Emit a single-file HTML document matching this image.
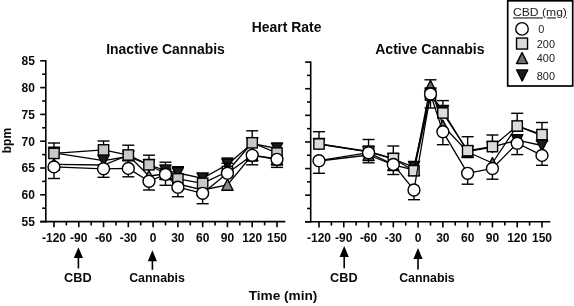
<!DOCTYPE html>
<html><head><meta charset="utf-8"><style>
html,body{margin:0;padding:0;background:#fff;}
svg{display:block;will-change:transform;}
text{font-family:"Liberation Sans", sans-serif;}
</style></head><body>
<svg width="574" height="306" viewBox="0 0 574 306">
<g stroke="#000" stroke-width="1.6" fill="none" stroke-linecap="butt">
<line x1="45.8" y1="60.0" x2="45.8" y2="222.4" />
<line x1="40.3" y1="221.6" x2="285.3" y2="221.6" />
<line x1="40.20" y1="60.80" x2="45.8" y2="60.80" />
<line x1="42.20" y1="74.20" x2="45.8" y2="74.20" />
<line x1="40.20" y1="87.60" x2="45.8" y2="87.60" />
<line x1="42.20" y1="101.00" x2="45.8" y2="101.00" />
<line x1="40.20" y1="114.40" x2="45.8" y2="114.40" />
<line x1="42.20" y1="127.80" x2="45.8" y2="127.80" />
<line x1="40.20" y1="141.20" x2="45.8" y2="141.20" />
<line x1="42.20" y1="154.60" x2="45.8" y2="154.60" />
<line x1="40.20" y1="168.00" x2="45.8" y2="168.00" />
<line x1="42.20" y1="181.40" x2="45.8" y2="181.40" />
<line x1="40.20" y1="194.80" x2="45.8" y2="194.80" />
<line x1="42.20" y1="208.20" x2="45.8" y2="208.20" />
<line x1="40.20" y1="221.60" x2="45.8" y2="221.60" />
<line x1="53.99" y1="221.6" x2="53.99" y2="227.20" />
<line x1="78.77" y1="221.6" x2="78.77" y2="227.20" />
<line x1="103.55" y1="221.6" x2="103.55" y2="227.20" />
<line x1="128.32" y1="221.6" x2="128.32" y2="227.20" />
<line x1="153.10" y1="221.6" x2="153.10" y2="227.20" />
<line x1="177.88" y1="221.6" x2="177.88" y2="227.20" />
<line x1="202.65" y1="221.6" x2="202.65" y2="227.20" />
<line x1="227.43" y1="221.6" x2="227.43" y2="227.20" />
<line x1="252.21" y1="221.6" x2="252.21" y2="227.20" />
<line x1="276.99" y1="221.6" x2="276.99" y2="227.20" />
<line x1="66.38" y1="221.6" x2="66.38" y2="225.40" />
<line x1="91.16" y1="221.6" x2="91.16" y2="225.40" />
<line x1="115.93" y1="221.6" x2="115.93" y2="225.40" />
<line x1="140.71" y1="221.6" x2="140.71" y2="225.40" />
<line x1="165.49" y1="221.6" x2="165.49" y2="225.40" />
<line x1="190.27" y1="221.6" x2="190.27" y2="225.40" />
<line x1="215.04" y1="221.6" x2="215.04" y2="225.40" />
<line x1="239.82" y1="221.6" x2="239.82" y2="225.40" />
<line x1="264.60" y1="221.6" x2="264.60" y2="225.40" />
<line x1="310.7" y1="61.300000000000004" x2="310.7" y2="222.60000000000002" />
<line x1="305.0" y1="221.8" x2="550.3" y2="221.8" />
<line x1="305.10" y1="62.10" x2="310.7" y2="62.10" />
<line x1="307.10" y1="75.41" x2="310.7" y2="75.41" />
<line x1="305.10" y1="88.72" x2="310.7" y2="88.72" />
<line x1="307.10" y1="102.03" x2="310.7" y2="102.03" />
<line x1="305.10" y1="115.33" x2="310.7" y2="115.33" />
<line x1="307.10" y1="128.64" x2="310.7" y2="128.64" />
<line x1="305.10" y1="141.95" x2="310.7" y2="141.95" />
<line x1="307.10" y1="155.26" x2="310.7" y2="155.26" />
<line x1="305.10" y1="168.57" x2="310.7" y2="168.57" />
<line x1="307.10" y1="181.88" x2="310.7" y2="181.88" />
<line x1="305.10" y1="195.18" x2="310.7" y2="195.18" />
<line x1="307.10" y1="208.49" x2="310.7" y2="208.49" />
<line x1="305.10" y1="221.80" x2="310.7" y2="221.80" />
<line x1="318.99" y1="221.8" x2="318.99" y2="227.40" />
<line x1="343.77" y1="221.8" x2="343.77" y2="227.40" />
<line x1="368.55" y1="221.8" x2="368.55" y2="227.40" />
<line x1="393.32" y1="221.8" x2="393.32" y2="227.40" />
<line x1="418.10" y1="221.8" x2="418.10" y2="227.40" />
<line x1="442.88" y1="221.8" x2="442.88" y2="227.40" />
<line x1="467.65" y1="221.8" x2="467.65" y2="227.40" />
<line x1="492.43" y1="221.8" x2="492.43" y2="227.40" />
<line x1="517.21" y1="221.8" x2="517.21" y2="227.40" />
<line x1="541.99" y1="221.8" x2="541.99" y2="227.40" />
<line x1="331.38" y1="221.8" x2="331.38" y2="225.60" />
<line x1="356.16" y1="221.8" x2="356.16" y2="225.60" />
<line x1="380.93" y1="221.8" x2="380.93" y2="225.60" />
<line x1="405.71" y1="221.8" x2="405.71" y2="225.60" />
<line x1="430.49" y1="221.8" x2="430.49" y2="225.60" />
<line x1="455.27" y1="221.8" x2="455.27" y2="225.60" />
<line x1="480.04" y1="221.8" x2="480.04" y2="225.60" />
<line x1="504.82" y1="221.8" x2="504.82" y2="225.60" />
<line x1="529.60" y1="221.8" x2="529.60" y2="225.60" />
<path d="M78.4 247.2 L83.0 258.0 L73.80000000000001 258.0 Z" fill="#000" stroke="none"/>
<line x1="78.4" y1="257.0" x2="78.4" y2="268.5" stroke-width="1.6"/>
<path d="M152.4 250.2 L157.0 261.3 L147.8 261.3 Z" fill="#000" stroke="none"/>
<line x1="152.4" y1="260.3" x2="152.4" y2="269.8" stroke-width="1.6"/>
<path d="M344.2 246.1 L348.8 256.9 L339.59999999999997 256.9 Z" fill="#000" stroke="none"/>
<line x1="344.2" y1="255.89999999999998" x2="344.2" y2="268.3" stroke-width="1.6"/>
<path d="M418.0 248.0 L422.6 259.1 L413.4 259.1 Z" fill="#000" stroke="none"/>
<line x1="418.0" y1="258.1" x2="418.0" y2="269.4" stroke-width="1.6"/>
</g>
<g stroke="#000" fill="none">
<path d="M53.99 164.30 L103.55 165.00 L128.32 155.20 L148.97 176.00 L165.49 174.00 L177.88 184.00 L202.65 190.00 L227.43 184.80 L252.21 155.00 L276.99 159.00" fill="none" stroke="#000" stroke-width="1.3"/>
<path d="M53.99 158.80 L59.59 169.80 L48.39 169.80 Z" fill="#888888" stroke="#000" stroke-width="1.4" stroke-linejoin="round"/>
<path d="M103.55 159.50 L109.15 170.50 L97.95 170.50 Z" fill="#888888" stroke="#000" stroke-width="1.4" stroke-linejoin="round"/>
<path d="M128.32 149.70 L133.92 160.70 L122.72 160.70 Z" fill="#888888" stroke="#000" stroke-width="1.4" stroke-linejoin="round"/>
<path d="M148.97 170.50 L154.57 181.50 L143.37 181.50 Z" fill="#888888" stroke="#000" stroke-width="1.4" stroke-linejoin="round"/>
<path d="M165.49 168.50 L171.09 179.50 L159.89 179.50 Z" fill="#888888" stroke="#000" stroke-width="1.4" stroke-linejoin="round"/>
<path d="M177.88 178.50 L183.48 189.50 L172.28 189.50 Z" fill="#888888" stroke="#000" stroke-width="1.4" stroke-linejoin="round"/>
<path d="M202.65 184.50 L208.25 195.50 L197.05 195.50 Z" fill="#888888" stroke="#000" stroke-width="1.4" stroke-linejoin="round"/>
<path d="M227.43 179.30 L233.03 190.30 L221.83 190.30 Z" fill="#888888" stroke="#000" stroke-width="1.4" stroke-linejoin="round"/>
<path d="M252.21 149.50 L257.81 160.50 L246.61 160.50 Z" fill="#888888" stroke="#000" stroke-width="1.4" stroke-linejoin="round"/>
<path d="M276.99 153.50 L282.59 164.50 L271.38 164.50 Z" fill="#888888" stroke="#000" stroke-width="1.4" stroke-linejoin="round"/>
<path d="M53.99 152.80 L103.55 160.70 L128.32 156.50 L148.97 165.00 L165.49 170.40 L177.88 173.00 L202.65 178.40 L227.43 164.50 L252.21 143.50 L276.99 148.50" fill="none" stroke="#000" stroke-width="1.3"/>
<line x1="165.49" y1="170.40" x2="165.49" y2="162.20" stroke-width="1.4"/>
<line x1="159.49" y1="162.20" x2="171.49" y2="162.20" stroke-width="1.4"/>
<line x1="177.88" y1="173.00" x2="177.88" y2="166.70" stroke-width="1.4"/>
<line x1="171.88" y1="166.70" x2="183.88" y2="166.70" stroke-width="1.4"/>
<line x1="227.43" y1="164.50" x2="227.43" y2="158.00" stroke-width="1.4"/>
<line x1="221.43" y1="158.00" x2="233.43" y2="158.00" stroke-width="1.4"/>
<path d="M48.39 147.30 L59.59 147.30 L53.99 158.30 Z" fill="#1a1a1a" stroke="#000" stroke-width="1.4" stroke-linejoin="round"/>
<path d="M97.95 155.20 L109.15 155.20 L103.55 166.20 Z" fill="#1a1a1a" stroke="#000" stroke-width="1.4" stroke-linejoin="round"/>
<path d="M122.72 151.00 L133.92 151.00 L128.32 162.00 Z" fill="#1a1a1a" stroke="#000" stroke-width="1.4" stroke-linejoin="round"/>
<path d="M143.37 159.50 L154.57 159.50 L148.97 170.50 Z" fill="#1a1a1a" stroke="#000" stroke-width="1.4" stroke-linejoin="round"/>
<path d="M159.89 164.90 L171.09 164.90 L165.49 175.90 Z" fill="#1a1a1a" stroke="#000" stroke-width="1.4" stroke-linejoin="round"/>
<path d="M172.28 167.50 L183.48 167.50 L177.88 178.50 Z" fill="#1a1a1a" stroke="#000" stroke-width="1.4" stroke-linejoin="round"/>
<path d="M197.05 172.90 L208.25 172.90 L202.65 183.90 Z" fill="#1a1a1a" stroke="#000" stroke-width="1.4" stroke-linejoin="round"/>
<path d="M221.83 159.00 L233.03 159.00 L227.43 170.00 Z" fill="#1a1a1a" stroke="#000" stroke-width="1.4" stroke-linejoin="round"/>
<path d="M246.61 138.00 L257.81 138.00 L252.21 149.00 Z" fill="#1a1a1a" stroke="#000" stroke-width="1.4" stroke-linejoin="round"/>
<path d="M271.38 143.00 L282.59 143.00 L276.99 154.00 Z" fill="#1a1a1a" stroke="#000" stroke-width="1.4" stroke-linejoin="round"/>
<path d="M53.99 153.40 L103.55 149.90 L128.32 155.00 L148.97 164.80 L165.49 174.00 L177.88 178.80 L202.65 183.30 L227.43 171.50 L252.21 142.80 L276.99 153.00" fill="none" stroke="#000" stroke-width="1.3"/>
<line x1="53.99" y1="153.40" x2="53.99" y2="143.00" stroke-width="1.4"/>
<line x1="47.99" y1="143.00" x2="59.99" y2="143.00" stroke-width="1.4"/>
<line x1="103.55" y1="149.90" x2="103.55" y2="141.00" stroke-width="1.4"/>
<line x1="97.55" y1="141.00" x2="109.55" y2="141.00" stroke-width="1.4"/>
<line x1="128.32" y1="155.00" x2="128.32" y2="145.20" stroke-width="1.4"/>
<line x1="122.32" y1="145.20" x2="134.32" y2="145.20" stroke-width="1.4"/>
<line x1="148.97" y1="164.80" x2="148.97" y2="155.20" stroke-width="1.4"/>
<line x1="142.97" y1="155.20" x2="154.97" y2="155.20" stroke-width="1.4"/>
<line x1="227.43" y1="171.50" x2="227.43" y2="163.20" stroke-width="1.4"/>
<line x1="221.43" y1="163.20" x2="233.43" y2="163.20" stroke-width="1.4"/>
<line x1="252.21" y1="142.80" x2="252.21" y2="130.80" stroke-width="1.4"/>
<line x1="246.21" y1="130.80" x2="258.21" y2="130.80" stroke-width="1.4"/>
<rect x="48.84" y="148.25" width="10.3" height="10.3" fill="#c8c8c8" stroke="#000" stroke-width="1.4"/>
<rect x="98.40" y="144.75" width="10.3" height="10.3" fill="#c8c8c8" stroke="#000" stroke-width="1.4"/>
<rect x="123.17" y="149.85" width="10.3" height="10.3" fill="#c8c8c8" stroke="#000" stroke-width="1.4"/>
<rect x="143.82" y="159.65" width="10.3" height="10.3" fill="#c8c8c8" stroke="#000" stroke-width="1.4"/>
<rect x="160.34" y="168.85" width="10.3" height="10.3" fill="#c8c8c8" stroke="#000" stroke-width="1.4"/>
<rect x="172.73" y="173.65" width="10.3" height="10.3" fill="#c8c8c8" stroke="#000" stroke-width="1.4"/>
<rect x="197.50" y="178.15" width="10.3" height="10.3" fill="#c8c8c8" stroke="#000" stroke-width="1.4"/>
<rect x="222.28" y="166.35" width="10.3" height="10.3" fill="#c8c8c8" stroke="#000" stroke-width="1.4"/>
<rect x="247.06" y="137.65" width="10.3" height="10.3" fill="#c8c8c8" stroke="#000" stroke-width="1.4"/>
<rect x="271.84" y="147.85" width="10.3" height="10.3" fill="#c8c8c8" stroke="#000" stroke-width="1.4"/>
<path d="M53.99 166.90 L103.55 168.80 L128.32 168.40 L148.97 181.30 L165.49 174.40 L177.88 187.20 L202.65 193.30 L227.43 173.20 L252.21 155.30 L276.99 159.30" fill="none" stroke="#000" stroke-width="1.3"/>
<line x1="53.99" y1="166.90" x2="53.99" y2="178.50" stroke-width="1.4"/>
<line x1="47.99" y1="178.50" x2="59.99" y2="178.50" stroke-width="1.4"/>
<line x1="103.55" y1="168.80" x2="103.55" y2="177.30" stroke-width="1.4"/>
<line x1="97.55" y1="177.30" x2="109.55" y2="177.30" stroke-width="1.4"/>
<line x1="128.32" y1="168.40" x2="128.32" y2="176.80" stroke-width="1.4"/>
<line x1="122.32" y1="176.80" x2="134.32" y2="176.80" stroke-width="1.4"/>
<line x1="148.97" y1="181.30" x2="148.97" y2="190.00" stroke-width="1.4"/>
<line x1="142.97" y1="190.00" x2="154.97" y2="190.00" stroke-width="1.4"/>
<line x1="165.49" y1="174.40" x2="165.49" y2="185.30" stroke-width="1.4"/>
<line x1="159.49" y1="185.30" x2="171.49" y2="185.30" stroke-width="1.4"/>
<line x1="177.88" y1="187.20" x2="177.88" y2="196.70" stroke-width="1.4"/>
<line x1="171.88" y1="196.70" x2="183.88" y2="196.70" stroke-width="1.4"/>
<line x1="202.65" y1="193.30" x2="202.65" y2="203.70" stroke-width="1.4"/>
<line x1="196.65" y1="203.70" x2="208.65" y2="203.70" stroke-width="1.4"/>
<line x1="252.21" y1="155.30" x2="252.21" y2="161.00" stroke-width="1.4"/>
<line x1="246.21" y1="161.00" x2="258.21" y2="161.00" stroke-width="1.4"/>
<line x1="252.21" y1="155.30" x2="252.21" y2="164.80" stroke-width="1.4"/>
<line x1="246.21" y1="164.80" x2="258.21" y2="164.80" stroke-width="1.4"/>
<line x1="276.99" y1="159.30" x2="276.99" y2="165.00" stroke-width="1.4"/>
<line x1="270.99" y1="165.00" x2="282.99" y2="165.00" stroke-width="1.4"/>
<line x1="276.99" y1="159.30" x2="276.99" y2="167.40" stroke-width="1.4"/>
<line x1="270.99" y1="167.40" x2="282.99" y2="167.40" stroke-width="1.4"/>
<circle cx="53.99" cy="166.90" r="5.95" fill="#fff" stroke="#000" stroke-width="1.4"/>
<circle cx="103.55" cy="168.80" r="5.95" fill="#fff" stroke="#000" stroke-width="1.4"/>
<circle cx="128.32" cy="168.40" r="5.95" fill="#fff" stroke="#000" stroke-width="1.4"/>
<circle cx="148.97" cy="181.30" r="5.95" fill="#fff" stroke="#000" stroke-width="1.4"/>
<circle cx="165.49" cy="174.40" r="5.95" fill="#fff" stroke="#000" stroke-width="1.4"/>
<circle cx="177.88" cy="187.20" r="5.95" fill="#fff" stroke="#000" stroke-width="1.4"/>
<circle cx="202.65" cy="193.30" r="5.95" fill="#fff" stroke="#000" stroke-width="1.4"/>
<circle cx="227.43" cy="173.20" r="5.95" fill="#fff" stroke="#000" stroke-width="1.4"/>
<circle cx="252.21" cy="155.30" r="5.95" fill="#fff" stroke="#000" stroke-width="1.4"/>
<circle cx="276.99" cy="159.30" r="5.95" fill="#fff" stroke="#000" stroke-width="1.4"/>
<path d="M318.99 161.00 L368.55 155.00 L393.32 165.00 L413.97 170.00 L430.49 86.00 L442.88 125.50 L467.65 152.00 L492.43 163.00 L517.21 125.80 L541.99 135.60" fill="none" stroke="#000" stroke-width="1.3"/>
<line x1="430.49" y1="86.00" x2="430.49" y2="79.80" stroke-width="1.4"/>
<line x1="424.49" y1="79.80" x2="436.49" y2="79.80" stroke-width="1.4"/>
<path d="M368.55 149.50 L374.15 160.50 L362.95 160.50 Z" fill="#666666" stroke="#000" stroke-width="1.4" stroke-linejoin="round"/>
<path d="M393.32 159.50 L398.92 170.50 L387.72 170.50 Z" fill="#666666" stroke="#000" stroke-width="1.4" stroke-linejoin="round"/>
<path d="M413.97 164.50 L419.57 175.50 L408.37 175.50 Z" fill="#666666" stroke="#000" stroke-width="1.4" stroke-linejoin="round"/>
<path d="M430.49 80.50 L436.09 91.50 L424.89 91.50 Z" fill="#666666" stroke="#000" stroke-width="1.4" stroke-linejoin="round"/>
<path d="M442.88 120.00 L448.48 131.00 L437.28 131.00 Z" fill="#666666" stroke="#000" stroke-width="1.4" stroke-linejoin="round"/>
<path d="M467.65 146.50 L473.25 157.50 L462.05 157.50 Z" fill="#666666" stroke="#000" stroke-width="1.4" stroke-linejoin="round"/>
<path d="M492.43 157.50 L498.03 168.50 L486.83 168.50 Z" fill="#666666" stroke="#000" stroke-width="1.4" stroke-linejoin="round"/>
<path d="M517.21 120.30 L522.81 131.30 L511.61 131.30 Z" fill="#666666" stroke="#000" stroke-width="1.4" stroke-linejoin="round"/>
<path d="M541.99 130.10 L547.59 141.10 L536.38 141.10 Z" fill="#666666" stroke="#000" stroke-width="1.4" stroke-linejoin="round"/>
<path d="M318.99 144.00 L368.55 151.80 L393.32 159.00 L413.97 167.00 L430.49 93.50 L442.88 111.00 L467.65 151.50 L492.43 147.00 L517.21 140.20 L541.99 145.50" fill="none" stroke="#000" stroke-width="1.3"/>
<path d="M313.39 138.50 L324.59 138.50 L318.99 149.50 Z" fill="#1a1a1a" stroke="#000" stroke-width="1.4" stroke-linejoin="round"/>
<path d="M362.95 146.30 L374.15 146.30 L368.55 157.30 Z" fill="#1a1a1a" stroke="#000" stroke-width="1.4" stroke-linejoin="round"/>
<path d="M387.72 153.50 L398.92 153.50 L393.32 164.50 Z" fill="#1a1a1a" stroke="#000" stroke-width="1.4" stroke-linejoin="round"/>
<path d="M408.37 161.50 L419.57 161.50 L413.97 172.50 Z" fill="#1a1a1a" stroke="#000" stroke-width="1.4" stroke-linejoin="round"/>
<path d="M424.89 88.00 L436.09 88.00 L430.49 99.00 Z" fill="#1a1a1a" stroke="#000" stroke-width="1.4" stroke-linejoin="round"/>
<path d="M437.28 105.50 L448.48 105.50 L442.88 116.50 Z" fill="#1a1a1a" stroke="#000" stroke-width="1.4" stroke-linejoin="round"/>
<path d="M462.05 146.00 L473.25 146.00 L467.65 157.00 Z" fill="#1a1a1a" stroke="#000" stroke-width="1.4" stroke-linejoin="round"/>
<path d="M486.83 141.50 L498.03 141.50 L492.43 152.50 Z" fill="#1a1a1a" stroke="#000" stroke-width="1.4" stroke-linejoin="round"/>
<path d="M511.61 134.70 L522.81 134.70 L517.21 145.70 Z" fill="#1a1a1a" stroke="#000" stroke-width="1.4" stroke-linejoin="round"/>
<path d="M536.38 140.00 L547.59 140.00 L541.99 151.00 Z" fill="#1a1a1a" stroke="#000" stroke-width="1.4" stroke-linejoin="round"/>
<path d="M318.99 144.00 L368.55 151.50 L393.32 158.50 L413.97 170.70 L430.49 95.00 L442.88 113.00 L467.65 150.70 L492.43 146.60 L517.21 126.00 L541.99 134.60" fill="none" stroke="#000" stroke-width="1.3"/>
<line x1="318.99" y1="144.00" x2="318.99" y2="131.70" stroke-width="1.4"/>
<line x1="312.99" y1="131.70" x2="324.99" y2="131.70" stroke-width="1.4"/>
<line x1="368.55" y1="151.50" x2="368.55" y2="139.50" stroke-width="1.4"/>
<line x1="362.55" y1="139.50" x2="374.55" y2="139.50" stroke-width="1.4"/>
<line x1="393.32" y1="158.50" x2="393.32" y2="146.00" stroke-width="1.4"/>
<line x1="387.32" y1="146.00" x2="399.32" y2="146.00" stroke-width="1.4"/>
<line x1="442.88" y1="113.00" x2="442.88" y2="100.60" stroke-width="1.4"/>
<line x1="436.88" y1="100.60" x2="448.88" y2="100.60" stroke-width="1.4"/>
<line x1="467.65" y1="150.70" x2="467.65" y2="136.70" stroke-width="1.4"/>
<line x1="461.65" y1="136.70" x2="473.65" y2="136.70" stroke-width="1.4"/>
<line x1="467.65" y1="150.70" x2="467.65" y2="157.00" stroke-width="1.4"/>
<line x1="461.65" y1="157.00" x2="473.65" y2="157.00" stroke-width="1.4"/>
<line x1="492.43" y1="146.60" x2="492.43" y2="135.00" stroke-width="1.4"/>
<line x1="486.43" y1="135.00" x2="498.43" y2="135.00" stroke-width="1.4"/>
<line x1="517.21" y1="126.00" x2="517.21" y2="113.30" stroke-width="1.4"/>
<line x1="511.21" y1="113.30" x2="523.21" y2="113.30" stroke-width="1.4"/>
<line x1="541.99" y1="134.60" x2="541.99" y2="122.50" stroke-width="1.4"/>
<line x1="535.99" y1="122.50" x2="547.99" y2="122.50" stroke-width="1.4"/>
<rect x="313.84" y="138.85" width="10.3" height="10.3" fill="#dcdcdc" stroke="#000" stroke-width="1.4"/>
<rect x="363.40" y="146.35" width="10.3" height="10.3" fill="#dcdcdc" stroke="#000" stroke-width="1.4"/>
<rect x="388.17" y="153.35" width="10.3" height="10.3" fill="#dcdcdc" stroke="#000" stroke-width="1.4"/>
<rect x="408.82" y="165.55" width="10.3" height="10.3" fill="#dcdcdc" stroke="#000" stroke-width="1.4"/>
<rect x="425.34" y="89.85" width="10.3" height="10.3" fill="#dcdcdc" stroke="#000" stroke-width="1.4"/>
<rect x="437.73" y="107.85" width="10.3" height="10.3" fill="#dcdcdc" stroke="#000" stroke-width="1.4"/>
<rect x="462.50" y="145.55" width="10.3" height="10.3" fill="#dcdcdc" stroke="#000" stroke-width="1.4"/>
<rect x="487.28" y="141.45" width="10.3" height="10.3" fill="#dcdcdc" stroke="#000" stroke-width="1.4"/>
<rect x="512.06" y="120.85" width="10.3" height="10.3" fill="#dcdcdc" stroke="#000" stroke-width="1.4"/>
<rect x="536.84" y="129.45" width="10.3" height="10.3" fill="#dcdcdc" stroke="#000" stroke-width="1.4"/>
<path d="M318.99 160.70 L368.55 152.70 L393.32 164.40 L413.97 190.00 L430.49 94.00 L442.88 131.70 L467.65 173.30 L492.43 168.50 L517.21 143.20 L541.99 155.40" fill="none" stroke="#000" stroke-width="1.3"/>
<line x1="318.99" y1="160.70" x2="318.99" y2="173.30" stroke-width="1.4"/>
<line x1="312.99" y1="173.30" x2="324.99" y2="173.30" stroke-width="1.4"/>
<line x1="368.55" y1="152.70" x2="368.55" y2="162.80" stroke-width="1.4"/>
<line x1="362.55" y1="162.80" x2="374.55" y2="162.80" stroke-width="1.4"/>
<line x1="393.32" y1="164.40" x2="393.32" y2="174.50" stroke-width="1.4"/>
<line x1="387.32" y1="174.50" x2="399.32" y2="174.50" stroke-width="1.4"/>
<line x1="413.97" y1="190.00" x2="413.97" y2="199.70" stroke-width="1.4"/>
<line x1="407.97" y1="199.70" x2="419.97" y2="199.70" stroke-width="1.4"/>
<line x1="430.49" y1="94.00" x2="430.49" y2="108.00" stroke-width="1.4"/>
<line x1="424.49" y1="108.00" x2="436.49" y2="108.00" stroke-width="1.4"/>
<line x1="442.88" y1="131.70" x2="442.88" y2="144.70" stroke-width="1.4"/>
<line x1="436.88" y1="144.70" x2="448.88" y2="144.70" stroke-width="1.4"/>
<line x1="467.65" y1="173.30" x2="467.65" y2="184.20" stroke-width="1.4"/>
<line x1="461.65" y1="184.20" x2="473.65" y2="184.20" stroke-width="1.4"/>
<line x1="492.43" y1="168.50" x2="492.43" y2="179.20" stroke-width="1.4"/>
<line x1="486.43" y1="179.20" x2="498.43" y2="179.20" stroke-width="1.4"/>
<line x1="517.21" y1="143.20" x2="517.21" y2="154.60" stroke-width="1.4"/>
<line x1="511.21" y1="154.60" x2="523.21" y2="154.60" stroke-width="1.4"/>
<line x1="541.99" y1="155.40" x2="541.99" y2="165.30" stroke-width="1.4"/>
<line x1="535.99" y1="165.30" x2="547.99" y2="165.30" stroke-width="1.4"/>
<circle cx="318.99" cy="160.70" r="5.95" fill="#fff" stroke="#000" stroke-width="1.4"/>
<circle cx="368.55" cy="152.70" r="5.95" fill="#fff" stroke="#000" stroke-width="1.4"/>
<circle cx="393.32" cy="164.40" r="5.95" fill="#fff" stroke="#000" stroke-width="1.4"/>
<circle cx="413.97" cy="190.00" r="5.95" fill="#fff" stroke="#000" stroke-width="1.4"/>
<circle cx="430.49" cy="94.00" r="5.95" fill="#fff" stroke="#000" stroke-width="1.4"/>
<circle cx="442.88" cy="131.70" r="5.95" fill="#fff" stroke="#000" stroke-width="1.4"/>
<circle cx="467.65" cy="173.30" r="5.95" fill="#fff" stroke="#000" stroke-width="1.4"/>
<circle cx="492.43" cy="168.50" r="5.95" fill="#fff" stroke="#000" stroke-width="1.4"/>
<circle cx="517.21" cy="143.20" r="5.95" fill="#fff" stroke="#000" stroke-width="1.4"/>
<circle cx="541.99" cy="155.40" r="5.95" fill="#fff" stroke="#000" stroke-width="1.4"/>
</g>
<g>
<rect x="507.7" y="0.8" width="65.0" height="85.2" fill="#fff" stroke="#000" stroke-width="1.7"/>
<circle cx="522.00" cy="28.90" r="6.25" fill="#fff" stroke="#000" stroke-width="1.4"/>
<rect x="516.55" y="38.05" width="11.0" height="11.0" fill="#dcdcdc" stroke="#000" stroke-width="1.4"/>
<path d="M522.05 52.60 L527.60 63.60 L516.50 63.60 Z" fill="#707070" stroke="#000" stroke-width="1.4" stroke-linejoin="round"/>
<path d="M516.65 69.90 L527.75 69.90 L522.20 80.90 Z" fill="#1a1a1a" stroke="#000" stroke-width="1.4" stroke-linejoin="round"/>
</g>
<g fill="#0a0a0a" font-weight="bold" font-size="12px">
<text x="53.99" y="241.6" text-anchor="middle">-120</text>
<text x="78.77" y="241.6" text-anchor="middle">-90</text>
<text x="103.55" y="241.6" text-anchor="middle">-60</text>
<text x="128.32" y="241.6" text-anchor="middle">-30</text>
<text x="153.10" y="241.6" text-anchor="middle">0</text>
<text x="177.88" y="241.6" text-anchor="middle">30</text>
<text x="202.65" y="241.6" text-anchor="middle">60</text>
<text x="227.43" y="241.6" text-anchor="middle">90</text>
<text x="252.21" y="241.6" text-anchor="middle">120</text>
<text x="276.99" y="241.6" text-anchor="middle">150</text>
<text x="34.9" y="65.20" text-anchor="end">85</text>
<text x="34.9" y="92.00" text-anchor="end">80</text>
<text x="34.9" y="118.80" text-anchor="end">75</text>
<text x="34.9" y="145.60" text-anchor="end">70</text>
<text x="34.9" y="172.40" text-anchor="end">65</text>
<text x="34.9" y="199.20" text-anchor="end">60</text>
<text x="34.9" y="226.00" text-anchor="end">55</text>
<text x="318.99" y="241.6" text-anchor="middle">-120</text>
<text x="343.77" y="241.6" text-anchor="middle">-90</text>
<text x="368.55" y="241.6" text-anchor="middle">-60</text>
<text x="393.32" y="241.6" text-anchor="middle">-30</text>
<text x="418.10" y="241.6" text-anchor="middle">0</text>
<text x="442.88" y="241.6" text-anchor="middle">30</text>
<text x="467.65" y="241.6" text-anchor="middle">60</text>
<text x="492.43" y="241.6" text-anchor="middle">90</text>
<text x="517.21" y="241.6" text-anchor="middle">120</text>
<text x="541.99" y="241.6" text-anchor="middle">150</text>
</g>
<g fill="#0a0a0a">
<text x="251.8" y="31.6" font-size="13.9px" font-weight="bold" textLength="69.69" lengthAdjust="spacingAndGlyphs">Heart Rate</text>
<text x="106.22" y="53.6" font-size="14.2px" font-weight="bold" textLength="118.61" lengthAdjust="spacingAndGlyphs">Inactive Cannabis</text>
<text x="375.21" y="53.6" font-size="14.2px" font-weight="bold" textLength="109.38" lengthAdjust="spacingAndGlyphs">Active Cannabis</text>
<text x="248.7" y="299.8" font-size="13.6px" font-weight="bold" textLength="68.69" lengthAdjust="spacingAndGlyphs">Time (min)</text>
<text x="63.93" y="281.7" font-size="12.0px" font-weight="bold" textLength="27.73" lengthAdjust="spacingAndGlyphs">CBD</text>
<text x="129.17" y="281.7" font-size="12.0px" font-weight="bold" textLength="55.78" lengthAdjust="spacingAndGlyphs">Cannabis</text>
<text x="330.14" y="281.7" font-size="12.0px" font-weight="bold" textLength="27.52" lengthAdjust="spacingAndGlyphs">CBD</text>
<text x="399.17" y="281.7" font-size="12.0px" font-weight="bold" textLength="55.57" lengthAdjust="spacingAndGlyphs">Cannabis</text>
<text x="513.03" y="16.4" font-size="11.3px" font-weight="normal" textLength="53.91" lengthAdjust="spacingAndGlyphs" text-decoration="underline" fill="#222">CBD (mg)</text>
<text transform="translate(10.6 140.6) rotate(-90)" text-anchor="middle" font-size="12px" font-weight="bold">bpm</text>
</g>
<g fill="#222" font-size="10.9px">
<text x="538.2" y="32.5">0</text>
<text x="536.8" y="47.5">200</text>
<text x="536.8" y="62.1">400</text>
<text x="536.8" y="79.5">800</text>
</g>
</svg>
</body></html>
